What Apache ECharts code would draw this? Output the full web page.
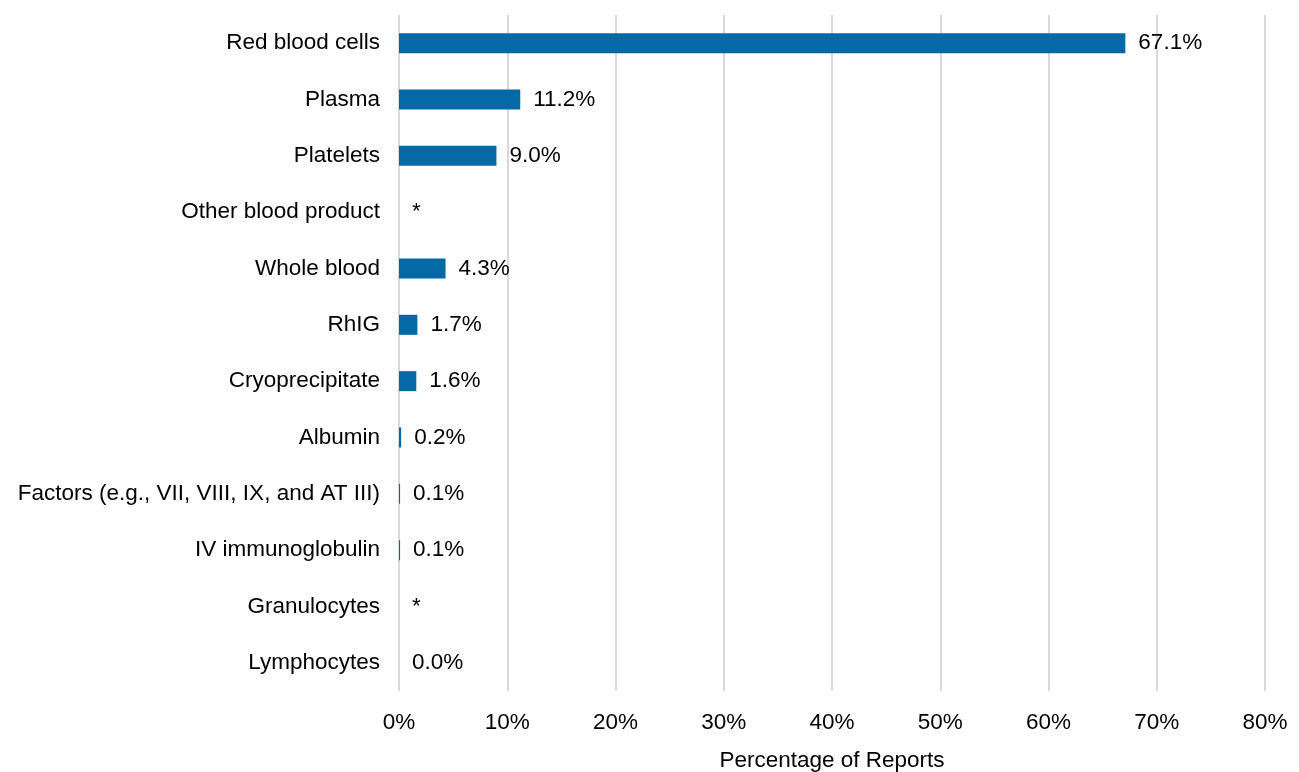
<!DOCTYPE html>
<html><head><meta charset="utf-8">
<script src="https://cdn.jsdelivr.net/npm/echarts@6/dist/echarts.min.js"></script>
<style>html,body{margin:0;padding:0;background:#fff}#c{width:1299px;height:772px}</style>
</head><body><div id="c"></div>
<script>
const categories = ['Red blood cells','Plasma','Platelets','Other blood product','Whole blood','RhIG','Cryoprecipitate','Albumin','Factors (e.g., VII, VIII, IX, and AT III)','IV immunoglobulin','Granulocytes','Lymphocytes'];
const values = [67.1, 11.2, 9.0, 0, 4.3, 1.7, 1.6, 0.2, 0.1, 0.1, 0, 0.0];
const valueLabels = ['67.1%','11.2%','9.0%','*','4.3%','1.7%','1.6%','0.2%','0.1%','0.1%','*','0.0%'];
const xTicks = [0,10,20,30,40,50,60,70,80];

const FS = 22.5;
const chart = echarts.init(document.getElementById('c'));
chart.setOption({
  animation:false,
  grid:{left:399,right:34,top:15,bottom:81,containLabel:false,outerBoundsMode:'none'},
  xAxis:{type:'value',min:0,max:80,interval:10,
    name:'Percentage of Reports',nameLocation:'middle',nameGap:58,
    nameTextStyle:{fontFamily:'Liberation Sans',fontSize:FS,color:'#000'},
    axisLine:{show:false},axisTick:{show:false},
    axisLabel:{margin:20,fontFamily:'Liberation Sans',fontSize:FS,color:'#000',formatter:v=>v+'%'},
    splitLine:{show:true,lineStyle:{color:'#d9d9d9',width:2}}},
  yAxis:{type:'category',data:categories,inverse:true,
    axisLine:{show:false},axisTick:{show:false},
    axisLabel:{margin:19,fontFamily:'Liberation Sans',fontSize:FS,color:'#000'}},
  series:[{type:'bar',data:values,barWidth:20,
    itemStyle:{color:'#0569a5'},
    label:{show:true,position:'right',distance:13,fontFamily:'Liberation Sans',fontSize:FS,color:'#000',
      formatter:p=>valueLabels[p.dataIndex]}}]
});
</script></body></html>
